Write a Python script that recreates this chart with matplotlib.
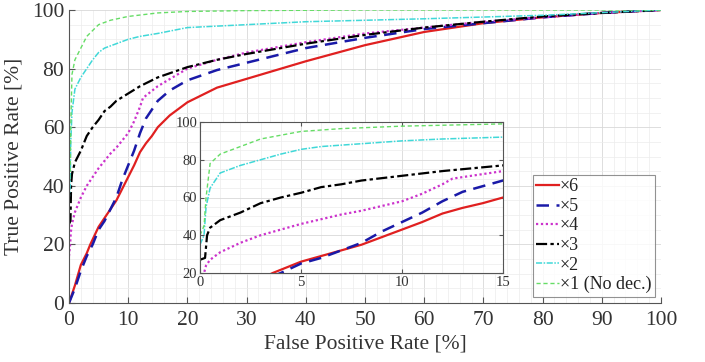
import matplotlib
matplotlib.use("Agg")
import matplotlib.pyplot as plt
from matplotlib.ticker import MultipleLocator

plt.rcParams['font.family'] = ['Liberation Serif', 'DejaVu Serif']

labels = ['×6', '×5', '×4', '×3', '×2', '×1 (No dec.)']

fpr_x6 = [0, 1, 2, 3, 3.6, 5, 6, 7, 8, 9, 10, 11, 12, 13, 14, 15, 17, 20, 25, 30, 40, 50, 60, 70, 80, 90, 100]
tpr_x6 = [0, 6, 13, 17, 20, 26, 29, 32, 35, 39, 43, 47, 51.5, 54.5, 57, 60, 64, 68.5, 73.5, 76.5, 82.5, 88, 92.5, 95.5, 97.5, 99, 100]

fpr_x5 = [0, 1, 2, 3, 4, 5, 6, 7, 8, 9, 10, 11, 12, 13, 14, 15, 17, 20, 25, 30, 40, 50, 60, 70, 80, 90, 100]
tpr_x5 = [0, 5, 11, 16, 20, 25, 28, 32, 36, 42, 47, 52, 58, 63, 66, 69, 72.5, 76, 79.5, 82, 87, 90.5, 93.5, 95.5, 97.5, 99, 100]

fpr_x4 = [0, 0.2, 0.3, 0.5, 1, 2, 3, 4, 5, 6, 7, 8, 10, 11, 12, 12.5, 15, 20, 25, 30, 40, 50, 60, 70, 80, 90, 100]
tpr_x4 = [16, 20, 24, 27, 31, 36, 40, 43, 46, 48.5, 51, 53, 58, 62, 67, 70, 74, 80, 83, 85.5, 89, 92, 94, 96, 97.5, 99, 100]

fpr_x3 = [0, 0.25, 0.35, 0.5, 1, 2, 3, 4, 5, 6, 7, 8, 10, 12, 15, 20, 25, 30, 40, 50, 60, 70, 80, 90, 100]
tpr_x3 = [27, 28, 40, 44, 48, 52, 57, 60, 62.5, 65.5, 67, 69, 71.5, 74, 77, 80.5, 83, 85, 88.5, 91.5, 94, 96, 97.8, 99, 100]

fpr_x2 = [0, 0.2, 0.3, 0.5, 1, 2, 3, 4, 5, 6, 8, 10, 12, 15, 20, 30, 40, 50, 60, 80, 100]
tpr_x2 = [35, 40, 55, 65, 73, 77, 80, 83, 85.5, 87, 88.5, 90, 91, 92, 94, 95, 96, 96.5, 97, 98.2, 100]

fpr_x1 = [0, 0.2, 0.3, 0.5, 1, 2, 3, 5, 7, 10, 15, 20, 30, 50, 100]
tpr_x1 = [40, 45, 60, 78, 83, 87, 91, 95, 96.5, 97.8, 99, 99.5, 99.8, 100, 100]

series = [(fpr_x6, tpr_x6), (fpr_x5, tpr_x5), (fpr_x4, tpr_x4),
          (fpr_x3, tpr_x3), (fpr_x2, tpr_x2), (fpr_x1, tpr_x1)]
styles = [dict(color='#e02020', ls='-', lw=1.6),
          dict(color='#1a1aa8', ls=(0, (5, 3)), lw=1.8),
          dict(color='#cc33cc', ls=(0, (1, 1.2)), lw=1.6),
          dict(color='black', ls=(0, (5, 1.5, 1.5, 1.5)), lw=1.6),
          dict(color='#40d8d8', ls=(0, (4, 1, 1, 1)), lw=1.1),
          dict(color='#66dd66', ls=(0, (3, 2)), lw=1.0)]

fig = plt.figure(figsize=(7.05, 3.62), dpi=100)
W, H = 705, 362
ax = fig.add_axes([69 / W, 1 - 303 / H, (661 - 69) / W, (303 - 10) / H])

def style_grid(a):
    a.grid(True, which='major', color='#d8d8d8', lw=0.6)
    a.grid(True, which='minor', color='#ececec', lw=0.5)
    a.set_axisbelow(True)

lines = []
for (x, y), st, lab in zip(series, styles, labels):
    ln, = ax.plot(x, y, label=lab, **st)
    lines.append(ln)

ax.set_xlim(0, 100)
ax.set_ylim(0, 100)
ax.xaxis.set_major_locator(MultipleLocator(10))
ax.xaxis.set_minor_locator(MultipleLocator(2))
ax.yaxis.set_major_locator(MultipleLocator(20))
ax.yaxis.set_minor_locator(MultipleLocator(5))
style_grid(ax)
for s in ['top', 'right']:
    ax.spines[s].set_visible(False)
for s in ['left', 'bottom']:
    ax.spines[s].set_color('#555555')
ax.tick_params(which='both', direction='in', colors='#555555', labelcolor='#333333', labelsize=15.5)
ax.tick_params(which='minor', length=0)
ax.tick_params(which='major', length=4)
ax.tick_params(axis='x', which='major', pad=6)
ax.set_xlabel('False Positive Rate [%]', fontsize=15.5, color='#333333', labelpad=3)
ax.set_ylabel('True Positive Rate [%]', fontsize=15.5, color='#333333', labelpad=6)

leg = ax.legend(handles=lines, loc='lower right', bbox_to_anchor=(655 / W, 1 - 297 / H),
                bbox_transform=fig.transFigure, fontsize=13, frameon=True, fancybox=False,
                handlelength=1.25, handletextpad=0.05, labelspacing=0.14, borderpad=0.2,
                borderaxespad=0)
leg.get_frame().set_edgecolor('#777777')
leg.get_frame().set_linewidth(0.8)
leg._legend_box.sep = 2
for t in leg.get_texts():
    t.set_color('#222222')

# inset
ins = fig.add_axes([200 / W, 1 - 273 / H, (503 - 200) / W, (273 - 122) / H])
for (x, y), st in zip(series, styles):
    ins.plot(x, y, **st)
ins.set_xlim(0, 15)
ins.set_ylim(20, 100)
ins.xaxis.set_major_locator(MultipleLocator(5))
ins.xaxis.set_minor_locator(MultipleLocator(1))
ins.yaxis.set_major_locator(MultipleLocator(20))
ins.yaxis.set_minor_locator(MultipleLocator(5))
style_grid(ins)
for s in ins.spines.values():
    s.set_color('#555555')
ins.tick_params(which='both', direction='in', colors='#555555', labelcolor='#333333', labelsize=10.5, top=True, right=True)
ins.tick_params(which='minor', length=0)
ins.tick_params(which='major', length=3, pad=2)

fig.savefig('out.png', dpi=100)
